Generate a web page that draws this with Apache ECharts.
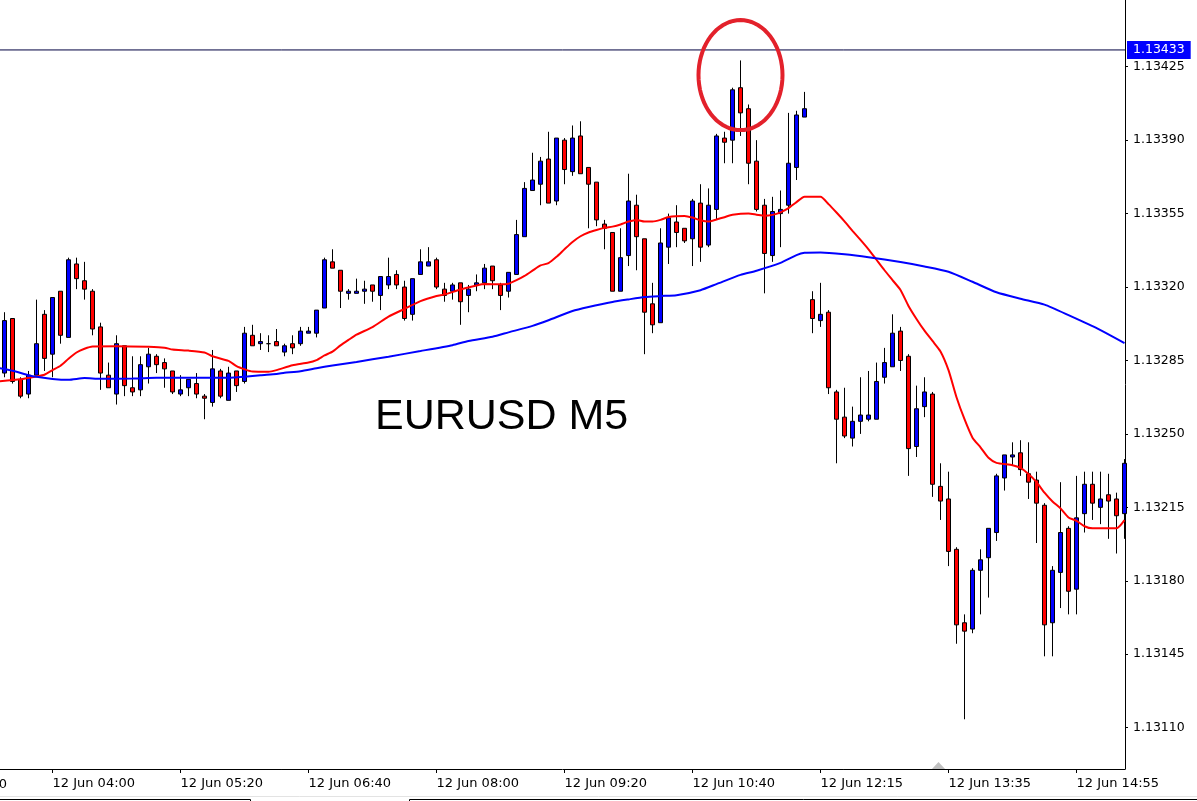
<!DOCTYPE html>
<html>
<head>
<meta charset="utf-8">
<title>EURUSD M5</title>
<script src="https://cdn.jsdelivr.net/npm/echarts/dist/echarts.min.js"></script>
<style>
  html, body { margin: 0; padding: 0; background: #fff; }
  #chart { width: 1197px; height: 801px; }
</style>
</head>
<body>
<div id="chart"></div>
<script>
// EURUSD M5, one entry per candle, left to right (index 0 = 12 Jun 03:30)
const open = [
  1.13279,1.13305,1.13276,1.13269,1.13278,1.13307,1.13288,1.13318,1.13296,1.13331,
  1.13323,1.13318,1.13301,1.13278,1.13269,1.13292,1.13272,1.13271,1.13282,1.13287,
  1.13284,1.13280,1.13269,1.13272,1.13274,1.13268,1.13265,1.13280,1.13266,1.13280,
  1.13275,1.13297,1.13293,1.13293,1.13294,1.13289,1.13293,1.13293,1.13298,1.13298,
  1.13310,1.13332,1.13328,1.13317,1.13317,1.13318,1.13321,1.13316,1.13321,1.13326,
  1.13320,1.13307,1.13326,1.13330,1.13333,1.13319,1.13318,1.13322,1.13316,1.13321,
  1.13322,1.13330,1.13321,1.13318,1.13326,1.13344,1.13366,1.13369,1.13381,1.13361,
  1.13390,1.13375,1.13392,1.13377,1.13370,1.13350,1.13346,1.13318,1.13335,1.13359,
  1.13343,1.13312,1.13303,1.13339,1.13351,1.13348,1.13343,1.13360,1.13340,1.13357,
  1.13391,1.13390,1.13415,1.13405,1.13380,1.13359,1.13335,1.13355,1.13359,1.13377,
  1.13401,1.13314,1.13304,1.13308,1.13270,1.13258,1.13248,1.13256,1.13257,1.13257,
  1.13277,1.13282,1.13299,1.13287,1.13244,1.13263,1.13269,1.13225,1.13219,1.13195,
  1.13160,1.13157,1.13185,1.13191,1.13203,1.13229,1.13239,1.13241,1.13231,1.13228,
  1.13216,1.13160,1.13184,1.13205,1.13176,1.13212,1.13226,1.13215,1.13221,1.13219,
  1.13212
];
const close = [
  1.13304,1.13275,1.13268,1.13278,1.13293,1.13286,1.13315,1.13297,1.13333,1.13324,
  1.13319,1.13300,1.13279,1.13272,1.13293,1.13273,1.13270,1.13283,1.13288,1.13283,
  1.13281,1.13270,1.13271,1.13276,1.13269,1.13267,1.13281,1.13268,1.13279,1.13273,
  1.13298,1.13292,1.13294,1.13293,1.13292,1.13292,1.13291,1.13299,1.13299,1.13309,
  1.13333,1.13329,1.13318,1.13318,1.13318,1.13319,1.13318,1.13325,1.13325,1.13321,
  1.13305,1.13324,1.13332,1.13332,1.13320,1.13316,1.13321,1.13313,1.13319,1.13322,
  1.13329,1.13323,1.13316,1.13327,1.13345,1.13367,1.13371,1.13380,1.13360,1.13391,
  1.13376,1.13391,1.13374,1.13369,1.13352,1.13348,1.13318,1.13334,1.13361,1.13344,
  1.13308,1.13302,1.13341,1.13353,1.13346,1.13342,1.13361,1.13339,1.13359,1.13392,
  1.13389,1.13414,1.13403,1.13379,1.13357,1.13336,1.13356,1.13357,1.13379,1.13402,
  1.13405,1.13305,1.13307,1.13272,1.13257,1.13249,1.13256,1.13259,1.13259,1.13275,
  1.13284,1.13298,1.13285,1.13243,1.13262,1.13270,1.13226,1.13218,1.13194,1.13159,
  1.13156,1.13185,1.13190,1.13205,1.13230,1.13240,1.13240,1.13233,1.13227,1.13217,
  1.13159,1.13185,1.13203,1.13175,1.13210,1.13226,1.13217,1.13219,1.13218,1.13211,
  1.13236
];
const low = [
  1.13277,1.13274,1.13267,1.13267,1.13278,1.13280,1.13277,1.13293,1.13296,1.13319,
  1.13314,1.13297,1.13271,1.13272,1.13264,1.13268,1.13268,1.13268,1.13274,1.13279,
  1.13272,1.13269,1.13268,1.13268,1.13267,1.13257,1.13263,1.13267,1.13266,1.13270,
  1.13274,1.13292,1.13290,1.13289,1.13292,1.13287,1.13288,1.13292,1.13298,1.13296,
  1.13310,1.13329,1.13310,1.13314,1.13317,1.13312,1.13313,1.13309,1.13319,1.13319,
  1.13304,1.13304,1.13326,1.13330,1.13319,1.13313,1.13314,1.13302,1.13308,1.13318,
  1.13319,1.13319,1.13309,1.13315,1.13326,1.13344,1.13366,1.13359,1.13360,1.13359,
  1.13369,1.13373,1.13374,1.13348,1.13349,1.13338,1.13318,1.13318,1.13330,1.13328,
  1.13288,1.13298,1.13303,1.13331,1.13339,1.13341,1.13330,1.13332,1.13339,1.13352,
  1.13379,1.13379,1.13392,1.13369,1.13356,1.13317,1.13332,1.13339,1.13355,1.13371,
  1.13401,1.13298,1.13301,1.13269,1.13236,1.13248,1.13244,1.13250,1.13256,1.13257,
  1.13274,1.13282,1.13280,1.13230,1.13239,1.13258,1.13220,1.13209,1.13187,1.13150,
  1.13114,1.13155,1.13164,1.13172,1.13199,1.13223,1.13235,1.13230,1.13219,1.13198,
  1.13144,1.13144,1.13167,1.13164,1.13164,1.13203,1.13209,1.13207,1.13200,1.13193,
  1.13200
];
const high = [
  1.13308,1.13305,1.13277,1.13280,1.13314,1.13309,1.13315,1.13318,1.13334,1.13334,
  1.13332,1.13319,1.13303,1.13284,1.13297,1.13292,1.13287,1.13287,1.13291,1.13288,
  1.13286,1.13280,1.13278,1.13276,1.13279,1.13269,1.13290,1.13281,1.13282,1.13280,
  1.13301,1.13302,1.13298,1.13297,1.13300,1.13293,1.13297,1.13301,1.13301,1.13309,
  1.13334,1.13338,1.13328,1.13319,1.13324,1.13323,1.13321,1.13325,1.13334,1.13328,
  1.13323,1.13324,1.13338,1.13339,1.13334,1.13322,1.13322,1.13322,1.13321,1.13326,
  1.13331,1.13330,1.13322,1.13327,1.13352,1.13370,1.13384,1.13382,1.13394,1.13391,
  1.13391,1.13397,1.13399,1.13377,1.13370,1.13352,1.13346,1.13348,1.13374,1.13364,
  1.13343,1.13322,1.13348,1.13355,1.13359,1.13348,1.13362,1.13369,1.13367,1.13393,
  1.13394,1.13415,1.13428,1.13407,1.13390,1.13362,1.13363,1.13366,1.13403,1.13404,
  1.13413,1.13318,1.13322,1.13309,1.13271,1.13272,1.13263,1.13277,1.13280,1.13284,
  1.13291,1.13307,1.13301,1.13288,1.13273,1.13277,1.13270,1.13236,1.13232,1.13196,
  1.13164,1.13186,1.13195,1.13205,1.13231,1.13240,1.13246,1.13247,1.13246,1.13232,
  1.13217,1.13187,1.13227,1.13206,1.13230,1.13232,1.13232,1.13232,1.13231,1.13222,
  1.13238
];

// moving averages: [candle index, price]
const maRed = [
  [-1,1.132750],[2,1.132761],[4,1.132774],[5,1.132782],[6,1.132804],[7,1.132825],[8,1.132858],
  [9,1.132888],[10,1.132906],[11,1.132917],[14,1.132918],[18,1.132915],[20,1.132911],[21,1.132902],
  [23,1.132897],[25,1.132888],[26,1.132870],[28,1.132848],[29,1.132823],[30,1.132808],[31,1.132797],
  [33,1.132796],[34,1.132804],[36,1.132827],[38,1.132840],[39,1.132852],[40,1.132874],[41,1.132892],
  [42,1.132922],[43,1.132948],[44,1.132973],[46,1.133009],[48,1.133059],[50,1.133096],[52,1.133133],
  [54,1.133157],[55,1.133164],[57,1.133188],[59,1.133207],[60,1.133214],[62,1.133213],[63,1.133216],
  [64,1.133233],[65,1.133253],[66,1.133278],[67,1.133303],[68,1.133314],[69,1.133344],[70,1.133380],
  [71,1.133415],[72,1.133442],[73,1.133460],[74,1.133472],[75,1.133482],[76,1.133488],[77,1.133498],
  [78,1.133512],[79,1.133520],[80,1.133512],[81,1.133512],[82,1.133520],[83,1.133534],[85,1.133539],
  [86,1.133531],[87,1.133518],[88,1.133512],[89,1.133522],[90,1.133533],[91,1.133544],[93,1.133550],
  [94,1.133545],[95,1.133540],[96,1.133544],[97,1.133556],[98,1.133576],[99,1.133605],[100,1.133630],
  [102,1.133630],[103,1.133595],[104,1.133555],[105,1.133513],[106,1.133468],[107,1.133425],
  [108,1.133380],[109,1.133330],[110,1.133280],[111,1.133233],[112,1.133186],[113,1.133110],
  [114,1.133048],[115,1.132992],[116,1.132943],[117,1.132893],[118,1.132804],[119,1.132675],
  [120,1.132570],[121,1.132482],[122,1.132436],[123,1.132386],[124,1.132362],[126,1.132351],
  [127,1.132338],[128,1.132309],[129,1.132270],[130,1.132220],[131,1.132178],[132,1.132145],
  [133,1.132102],[134,1.132086],[135,1.132060],[136,1.132050],[139,1.132050],[140,1.132089]
];
const maBlue = [
  [-1,1.132816],[1,1.132801],[3,1.132780],[4,1.132772],[6,1.132762],[8,1.132758],[10,1.132766],
  [12,1.132763],[16,1.132764],[18,1.132767],[20,1.132768],[28,1.132768],[30,1.132773],[32,1.132780],
  [34,1.132786],[35,1.132791],[37,1.132799],[39,1.132813],[41,1.132826],[44,1.132843],[48,1.132868],
  [52,1.132895],[56,1.132923],[58,1.132943],[61,1.132963],[63,1.132984],[66,1.133015],[68,1.133042],
  [71,1.133086],[73,1.133105],[76,1.133129],[78,1.133141],[80,1.133152],[82,1.133157],[84,1.133161],
  [87,1.133185],[89,1.133214],[92,1.133258],[94,1.133278],[97,1.133315],[99,1.133352],[100,1.133363],
  [102,1.133365],[105,1.133356],[108,1.133342],[112,1.133319],[115,1.133298],[118,1.133273],
  [121,1.133225],[124,1.133175],[127,1.133144],[130,1.133116],[133,1.133066],[137,1.132995],
  [140,1.132933]
];

// time axis labels sit on these candle indexes
const xTickIdx = [6, 22, 38, 54, 70, 86, 102, 118, 134];
const xTickLabels = ['12 Jun 04:00', '12 Jun 05:20', '12 Jun 06:40', '12 Jun 08:00', '12 Jun 09:20',
  '12 Jun 10:40', '12 Jun 12:15', '12 Jun 13:35', '12 Jun 14:55'];
const prevTick = { idx: -10, label: '12 Jun 02:40' };
const yTicks = [1.13110, 1.13145, 1.13180, 1.13215, 1.13250, 1.13285, 1.13320, 1.13355, 1.13390, 1.13425];
const priceLine = 1.13433;
const circleAt = { idx: 92, price: 1.13421 };

const axisFont = 'DejaVu Sans';
const xMin = -0.5625;
const xMax = 140.0625;
const chart = echarts.init(document.getElementById('chart'));

const option = {
  animation: false,
  backgroundColor: '#ffffff',
  grid: { left: 0, right: 72, top: 0, bottom: 32 },
  xAxis: {
    type: 'value',
    min: xMin,
    max: xMax,
    splitLine: { show: false },
    axisLine: { onZero: false, lineStyle: { color: '#000', width: 1 } },
    axisTick: { show: true, customValues: xTickIdx, length: 4, lineStyle: { color: '#000' } },
    axisLabel: {
      customValues: xTickIdx,
      formatter: v => xTickLabels[xTickIdx.indexOf(v)],
      align: 'left',
      margin: 8,
      color: '#000',
      fontFamily: axisFont,
      fontSize: 13
    }
  },
  yAxis: {
    type: 'value',
    position: 'right',
    min: 1.130903,
    max: 1.134568,
    splitLine: { show: false },
    axisLine: { show: true, onZero: false, lineStyle: { color: '#000', width: 1 } },
    axisTick: { show: true, customValues: yTicks, length: 3, lineStyle: { color: '#000' } },
    axisLabel: {
      customValues: yTicks,
      formatter: v => v.toFixed(5),
      margin: 8,
      color: '#000',
      fontFamily: axisFont,
      fontSize: 12.5
    }
  },
  series: [
    {
      type: 'candlestick',
      data: open.map((o, i) => [i, o, close[i], low[i], high[i]]),
      encode: { x: 0, y: [1, 2, 3, 4] },
      barWidth: 5,
      clip: true,
      itemStyle: {
        color: '#0000ff', color0: '#ff0000',
        borderColor: '#000', borderColor0: '#000', borderColorDoji: '#000',
        borderWidth: 1
      }
    },
    {
      type: 'line', data: maRed, showSymbol: false, smooth: 0.2, clip: true,
      lineStyle: { color: '#ff0000', width: 2 }
    },
    {
      type: 'line', data: maBlue, showSymbol: false, smooth: 0.2, clip: true,
      lineStyle: { color: '#0000ff', width: 2 }
    },
    {
      // horizontal price line with its tag on the price scale
      type: 'line',
      data: [[xMin, priceLine], [xMax, priceLine]],
      showSymbol: false,
      clip: false,
      silent: true,
      lineStyle: { color: '#000040', width: 1 },
      endLabel: {
        show: true,
        distance: 2,
        formatter: priceLine.toFixed(5),
        color: '#fff',
        backgroundColor: '#0000ff',
        padding: [3, 6, 2, 6],
        fontFamily: axisFont,
        fontSize: 12.5
      }
    }
  ]
};
chart.setOption(option);

// annotations: ellipse round the top, title text, cut-off previous time label
const c = chart.convertToPixel({ gridIndex: 0 }, [circleAt.idx, circleAt.price]);
const ring = [];
for (let a = 0; a < 360; a += 5) {
  const r = a * Math.PI / 180;
  ring.push([c[0] + 42 * Math.cos(r), c[1] + 55 * Math.sin(r)]);
}
const pt = chart.convertToPixel({ gridIndex: 0 }, [prevTick.idx, yTicks[0]]);

chart.setOption({
  graphic: [
    { type: 'polygon', shape: { points: ring }, style: { fill: 'none', stroke: '#e3212b', lineWidth: 4 }, z: 50 },
    { type: 'text', left: 375, top: 396, style: { text: 'EURUSD M5', font: '43px "Liberation Sans"', fill: '#000' }, z: 50 },
    { type: 'text', x: pt[0], y: 778, style: { text: prevTick.label, font: '13px "DejaVu Sans"', fill: '#000' } },
    { type: 'polygon', shape: { points: [[931.5, 769.5], [938.5, 762], [945.5, 769.5]] }, style: { fill: '#c0c0c0' } },
    { type: 'line', shape: { x1: 0, y1: 796.5, x2: 1197, y2: 796.5 }, style: { stroke: '#e3e3e3', lineWidth: 1 } },
    { type: 'polyline', shape: { points: [[0, 799.5], [250.5, 799.5], [250.5, 801]] }, style: { stroke: '#000', lineWidth: 1, fill: 'none' } },
    { type: 'polyline', shape: { points: [[409.5, 801], [409.5, 799.5], [1197, 799.5]] }, style: { stroke: '#000', lineWidth: 1, fill: 'none' } }
  ]
});
</script>
</body>
</html>
